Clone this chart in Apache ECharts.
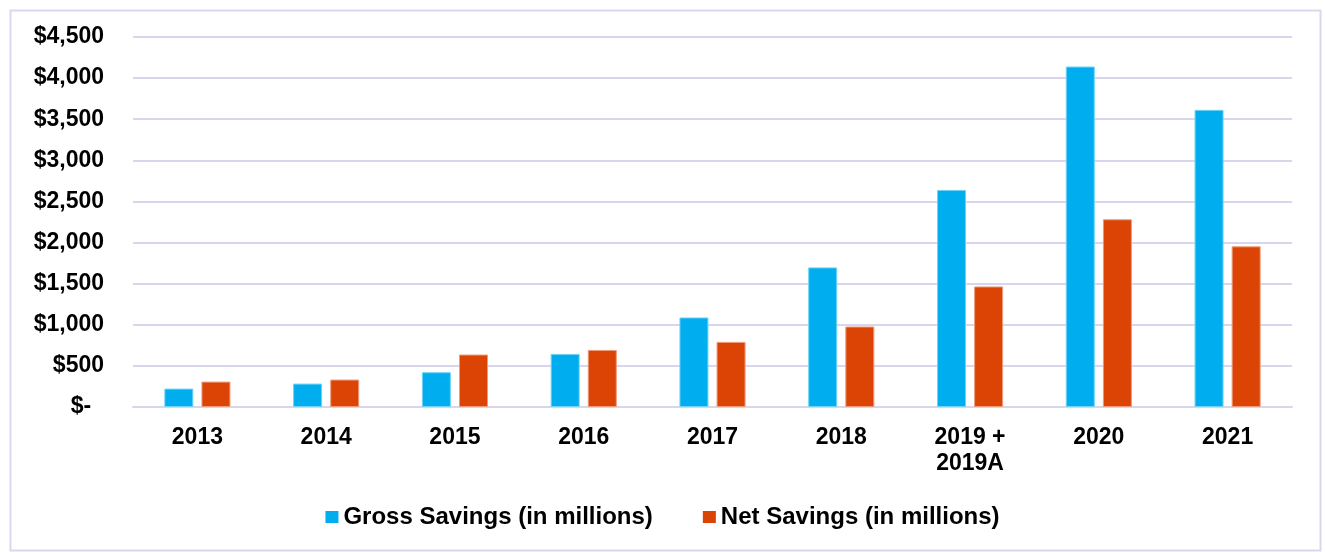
<!DOCTYPE html>
<html>
<head>
<meta charset="utf-8">
<script src="https://cdn.jsdelivr.net/npm/echarts@6/dist/echarts.min.js"></script>
<style>
html,body{margin:0;padding:0;background:#fff;}
#chart{width:1325px;height:552px;}
</style>
</head>
<body>
<div id="chart"></div>
<script>
const categories = ['2013','2014','2015','2016','2017','2018','2019 +\n2019A','2020','2021'];
const grossSavings = [224, 285, 423, 646, 1089, 1698, 2640, 4141, 3614];
const netSavings = [309, 334, 638, 694, 792, 979, 1466, 2283, 1954];
const seriesNames = ['Gross Savings (in millions)', 'Net Savings (in millions)'];
const yTicks = {min: 0, max: 4500, interval: 500};

const FONT = '"Liberation Sans", Arial, sans-serif';
const chart = echarts.init(document.getElementById('chart'), null, {renderer: 'canvas'});
chart.setOption({
  animation: false,
  backgroundColor: '#fff',
  graphic: [{
    type: 'rect', left: 8, top: 8,
    shape: {width: 1310, height: 540},
    style: {fill: 'none', stroke: '#D9D7EE', lineWidth: 2}, silent: true
  }],
  grid: {left: 133, right: 33, top: 37, bottom: 145},
  legend: {
    data: seriesNames,
    top: 499,
    left: 'center',
    itemWidth: 13, itemHeight: 12, itemGap: 50,
    icon: 'rect',
    itemStyle: {borderWidth: 0},
    textStyle: {fontFamily: FONT, fontSize: 24, fontWeight: 'bold', color: '#000', lineHeight: 26, padding: [0,0,0,0]}
  },
  xAxis: {
    type: 'category',
    data: categories,
    axisLine: {show: true, lineStyle: {color: '#D9D5EC', width: 2}},
    axisTick: {show: false},
    axisLabel: {fontFamily: FONT, fontSize: 23, fontWeight: 'bold', color: '#000', margin: 18, lineHeight: 26}
  },
  yAxis: {
    type: 'value',
    min: yTicks.min, max: yTicks.max, interval: yTicks.interval,
    axisLine: {show: false},
    axisTick: {show: false},
    splitLine: {lineStyle: {color: '#D9D5EC', width: 2}},
    axisLabel: {
      fontFamily: FONT, fontSize: 23, fontWeight: 'bold', color: '#000', margin: 29,
      formatter: v => v === 0 ? '$-  ' : '$' + v.toLocaleString('en-US')
    }
  },
  series: [
    {name: seriesNames[0], type: 'bar', data: grossSavings, barWidth: 29, barGap: '28%',
     itemStyle: {color: '#00AEEF', borderColor: '#6FD3F7', borderWidth: 1}},
    {name: seriesNames[1], type: 'bar', data: netSavings, barWidth: 29,
     itemStyle: {color: '#DC4405', borderColor: '#EE9A7A', borderWidth: 1}}
  ]
});
</script>
</body>
</html>
